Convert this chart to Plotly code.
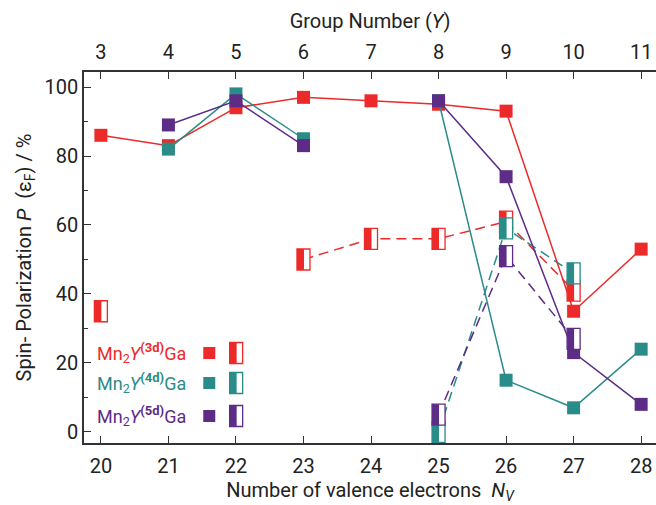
import plotly.graph_objects as go

# ---------------- data ----------------
nv = [20, 21, 22, 23, 24, 25, 26, 27, 28]
group_ticks = ["3", "4", "5", "6", "7", "8", "9", "10", "11"]

# filled squares, solid lines (P at eps_F)
x3d = [20, 21, 22, 23, 24, 25, 26, 27, 28]
p3d = [86, 83, 94, 97, 96, 95, 93, 35, 53]
x4d = [21, 22, 23, None, 25, 26, 27, 28]
p4d = [82, 98, 85, None, 96, 15, 7, 24]
x5d = [21, 22, 23, None, 25, 26, 27, 28]
p5d = [89, 96, 83, None, 96, 74, 23, 8]

# half-filled rectangles, dashed lines
xh3d = [20, None, 23, 24, 25, 26, 27]
ph3d = [35, None, 50, 56, 56, 61, 41]
xh4d = [25, 26, 27]
ph4d = [0, 59, 46]
xh5d = [25, 26, 27]
ph5d = [5, 51, 27]

RED = "#ED2A2A"
TEAL = "#2A8C88"
PURPLE = "#5C2C87"
FONT = "Roboto, sans-serif"

fig = go.Figure()

series = [
    (x3d, p3d, xh3d, ph3d, RED),
    (x4d, p4d, xh4d, ph4d, TEAL),
    (x5d, p5d, xh5d, ph5d, PURPLE),
]

shapes = []
for xs, ys, xh, yh, col in series:
    fig.add_trace(go.Scatter(x=xh, y=yh, mode="lines", connectgaps=False,
                             line=dict(color=col, width=1.5, dash="10px,6px"),
                             hoverinfo="skip", showlegend=False))
for xs, ys, xh, yh, col in series:
    fig.add_trace(go.Scatter(x=xs, y=ys, mode="lines+markers", connectgaps=False,
                             line=dict(color=col, width=1.5),
                             marker=dict(symbol="square", size=13, color=col,
                                         line=dict(width=0)),
                             showlegend=False))

def half_rect(xa, ya, col, xref="x", yref="y"):
    out = []
    out.append(dict(type="rect", xref=xref, yref=yref, xsizemode="pixel", ysizemode="pixel",
                    xanchor=xa, yanchor=ya, x0=-6.5, x1=6.5, y0=-10.5, y1=10.5,
                    fillcolor="white", line=dict(color=col, width=1.3), layer="above"))
    out.append(dict(type="rect", xref=xref, yref=yref, xsizemode="pixel", ysizemode="pixel",
                    xanchor=xa, yanchor=ya, x0=-6.5, x1=0.5, y0=-10.5, y1=10.5,
                    fillcolor=col, line=dict(width=0), layer="above"))
    return out

for xs, ys, xh, yh, col in series:
    for a, b in zip(xh, yh):
        if a is None:
            continue
        shapes += half_rect(a, b, col)

# top axis (group number)
fig.add_trace(go.Scatter(x=[3, 11], y=[50, 50], xaxis="x2", yaxis="y", mode="markers",
                         marker=dict(opacity=0), showlegend=False, hoverinfo="skip"))

# ---------------- legend (custom) ----------------
legend_rows = [("3d", RED), ("4d", TEAL), ("5d", PURPLE)]
row_y = [0.2426, 0.1617, 0.0728]
annotations = []
for (lab, col), yy in zip(legend_rows, row_y):
    annotations.append(dict(
        xref="paper", yref="paper", x=0.182, y=yy, xanchor="right", yanchor="middle",
        text="Mn<sub>2</sub><i>Y</i><sup><b><span style='font-size:13px'>(" + lab + ")</span></b></sup>Ga",
        showarrow=False, font=dict(family=FONT, size=18, color=col)))
    shapes.append(dict(type="rect", xref="paper", yref="paper", xsizemode="pixel",
                       ysizemode="pixel", xanchor=0.219, yanchor=yy,
                       x0=-6, x1=6, y0=-6, y1=6, fillcolor=col, line=dict(width=0),
                       layer="above"))
    shapes += half_rect(0.266, yy, col, xref="paper", yref="paper")

axis_common = dict(showline=True, linecolor="#333", linewidth=1.5, ticks="inside",
                   tickcolor="#333", tickwidth=1.2, showgrid=False, zeroline=False,
                   tickfont=dict(family=FONT, size=20, color="#222"))

fig.update_layout(
    width=656, height=505,
    margin=dict(l=84, r=0, t=72, b=62),
    paper_bgcolor="white", plot_bgcolor="white",
    font=dict(family=FONT, color="#222"),
    xaxis=dict(range=[19.75, 28.22], tickvals=nv, ticklen=7, ticklabelstandoff=4,
               **axis_common,
               title=dict(text="Number of valence electrons  <i>N</i><sub><i>V</i></sub>",
                          font=dict(family=FONT, size=20, color="#222"), standoff=6)),
    xaxis2=dict(range=[2.75, 11.22], tickvals=list(range(3, 12)), ticktext=group_ticks,
                overlaying="x", side="top", ticklen=7, ticklabelstandoff=3, **axis_common,
                title=dict(text="Group Number (<i>Y</i>)",
                           font=dict(family=FONT, size=20, color="#222"), standoff=6)),
    yaxis=dict(range=[-3.2, 104.35], tickvals=[0, 20, 40, 60, 80, 100], ticklen=7,
               minor=dict(tickvals=[10, 30, 50, 70, 90], ticks="inside", ticklen=4,
                          tickcolor="#333", tickwidth=1.2),
               **axis_common,
               title=dict(text="Spin- Polarization <i>P</i>  (ε<sub>F</sub>) / %",
                          font=dict(family=FONT, size=20, color="#222"), standoff=8)),
    shapes=shapes,
    annotations=annotations,
    showlegend=False,
)

fig.write_html("out.html")
